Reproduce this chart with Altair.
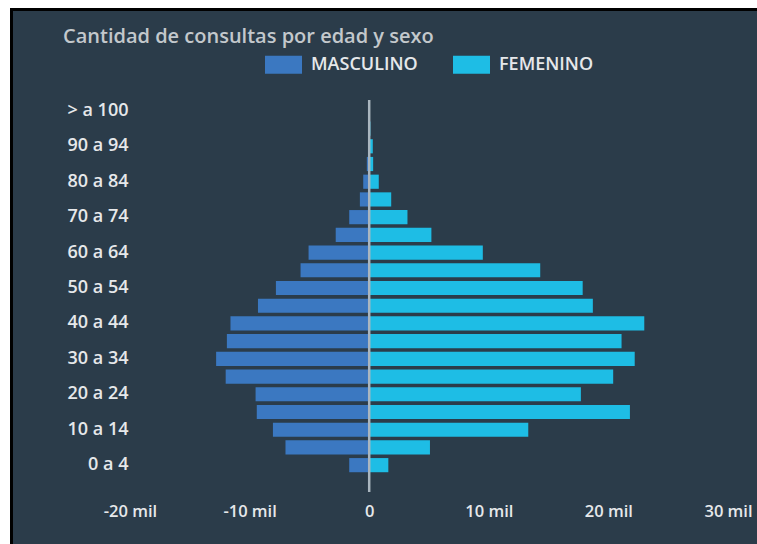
import altair as alt
import pandas as pd

# Age groups, youngest first
edades = [
    "0 a 4", "5 a 9", "10 a 14", "15 a 19", "20 a 24", "25 a 29", "30 a 34",
    "35 a 39", "40 a 44", "45 a 49", "50 a 54", "55 a 59", "60 a 64",
    "65 a 69", "70 a 74", "75 a 79", "80 a 84", "85 a 89", "90 a 94",
    "95 a 99", "> a 100",
]
# Consultations per age group
masculino = [
    1670, 7000, 8050, 9400, 9500, 12000, 12800, 11900, 11600, 9300, 7800,
    5740, 5070, 2800, 1670, 780, 500, 200, 60, 20, 10,
]
femenino = [
    1600, 5080, 13300, 21800, 17700, 20400, 22200, 21100, 23000, 18700,
    17850, 14300, 9500, 5200, 3200, 1840, 800, 330, 300, 100, 50,
]
sexos = ["MASCULINO", "FEMENINO"]
colores = ["#3b78c1", "#1ebde5"]
ticks_x = [-20000, -10000, 0, 10000, 20000, 30000]

FONDO = "#2b3c4a"
TEXTO = "#e6e8ea"
FUENTE = "Open Sans"

filas = []
for e, m, f in zip(edades, masculino, femenino):
    filas.append({"edad": e, "sexo": sexos[0], "consultas": m})
    filas.append({"edad": e, "sexo": sexos[1], "consultas": f})
df = pd.DataFrame(filas)

PAD_L, PAD_R, PAD_T, PAD_B = 130, 29, 102, 70
W = 757 - PAD_L - PAD_R
H = 544 - PAD_T - PAD_B

escala_x = alt.Scale(domain=[-20000, 30000], nice=False, zero=False)

barras = (
    alt.Chart(df)
    .transform_calculate(
        valor="datum.sexo == 'MASCULINO' ? -datum.consultas : datum.consultas"
    )
    .mark_bar()
    .encode(
        x=alt.X(
            "valor:Q",
            stack=None,
            scale=escala_x,
            title=None,
            axis=alt.Axis(
                values=ticks_x,
                labelExpr="datum.value == 0 ? '0' : (datum.value / 1000) + ' mil'",
                grid=False,
                domain=False,
                ticks=False,
                labelPadding=29,
                labelFontSize=16.5,
                labelFontWeight=600,
                labelColor=TEXTO,
                labelFont=FUENTE,
                labelFlush=False,
            ),
        ),
        y=alt.Y(
            "edad:N",
            sort=edades[::-1],
            title=None,
            scale=alt.Scale(paddingInner=0.2, paddingOuter=0.1),
            axis=alt.Axis(
                values=edades[::2],
                grid=False,
                domain=False,
                ticks=False,
                labelPadding=2,
                labelFontSize=18,
                labelFontWeight=600,
                labelColor=TEXTO,
                labelFont=FUENTE,
            ),
        ),
        color=alt.Color(
            "sexo:N",
            scale=alt.Scale(domain=sexos, range=colores),
            legend=alt.Legend(
                title=None,
                orient="none",
                legendX=135,
                legendY=-56,
                direction="horizontal",
                symbolType="M-1,-0.49L1,-0.49L1,0.49L-1,0.49Z",
                symbolSize=1369,
                symbolStrokeWidth=0,
                symbolOpacity=1,
                labelFontSize=18,
                labelFontWeight=600,
                labelColor=TEXTO,
                labelFont=FUENTE,
                labelOffset=9,
                columnPadding=35,
            ),
        ),
    )
)

# Zero reference line drawn over the bars
cero = (
    alt.Chart(pd.DataFrame({"valor": [0]}))
    .mark_rule(color="#aab6bf", strokeWidth=2.5)
    .encode(x=alt.X("valor:Q", scale=escala_x), y=alt.value(-2), y2=alt.value(H + 18))
)

# Outer frame: white margin with a black edge along top and left
marco = pd.DataFrame({"k": [1]})
blanco_sup = alt.Chart(marco).mark_rect(color="white").encode(
    x=alt.value(-PAD_L), x2=alt.value(W + PAD_R), y=alt.value(-PAD_T), y2=alt.value(-PAD_T + 8)
)
blanco_izq = alt.Chart(marco).mark_rect(color="white").encode(
    x=alt.value(-PAD_L), x2=alt.value(-PAD_L + 10), y=alt.value(-PAD_T), y2=alt.value(H + PAD_B)
)
negro_sup = alt.Chart(marco).mark_rect(color="black").encode(
    x=alt.value(-PAD_L + 10), x2=alt.value(W + PAD_R), y=alt.value(-PAD_T + 8), y2=alt.value(-PAD_T + 11)
)
negro_izq = alt.Chart(marco).mark_rect(color="black").encode(
    x=alt.value(-PAD_L + 10), x2=alt.value(-PAD_L + 13), y=alt.value(-PAD_T + 8), y2=alt.value(H + PAD_B)
)

chart = (
    alt.layer(barras, cero, blanco_sup, blanco_izq, negro_sup, negro_izq)
    .properties(
        width=W,
        height=H,
        padding={"left": PAD_L, "right": PAD_R, "top": PAD_T, "bottom": PAD_B},
        autosize=alt.AutoSizeParams(type="none"),
        background=FONDO,
        title=alt.TitleParams(
            "Cantidad de consultas por edad y sexo",
            anchor="start",
            frame="group",
            dx=-67,
            dy=55,
            offset=8,
            fontSize=20,
            fontWeight=600,
            color="#c3c8cc",
            font=FUENTE,
        ),
    )
    .configure_view(stroke=None)
)

chart.save("out.html", embed_options={"renderer": "svg", "actions": False})
